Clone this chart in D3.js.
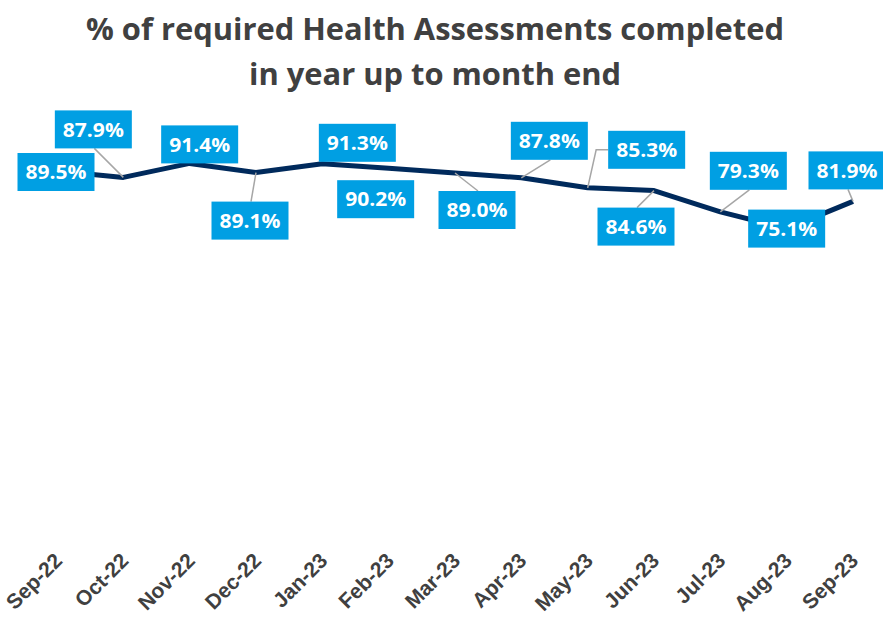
<!DOCTYPE html>
<html>
<head>
<meta charset="utf-8">
<script src="https://cdn.jsdelivr.net/npm/d3@7"></script>
<style>
  html, body { margin: 0; padding: 0; background: #fff; }
  svg { display: block; }
</style>
</head>
<body>
<svg id="chart" width="883" height="619"></svg>
<script>
// ---- data ----
const months = ["Sep-22","Oct-22","Nov-22","Dec-22","Jan-23","Feb-23","Mar-23","Apr-23","May-23","Jun-23","Jul-23","Aug-23","Sep-23"];
const pctCompleted = [89.5, 87.9, 91.4, 89.1, 91.3, 90.2, 89.0, 87.8, 85.3, 84.6, 79.3, 75.1, 81.9];
const titleLines = ["% of required Health Assessments completed", "in year up to month end"];

// ---- label layout (offset of box centre from point, leader style) ----
const labelDx = [-1, -30, 10, -6, 35, -13, 22, 28, 59, -18, 28, 0, -6];
const labelDy = [1, -48, -19, 48, -21, 31, 37, -37, -38, 36, -41, 0, -31];
const leaderType = ["none","v","none","v","none","none","v","v","elbow","v","v","none","v"];

const svg = d3.select("#chart");

const x = d3.scalePoint().domain(months).range([57, 853]);
const y = d3.scaleLinear().domain([0, 100]).range([529, 129]);

// title
svg.append("g").selectAll("text").data(titleLines).join("text")
  .attr("x", 435)
  .attr("y", (d, i) => 40 + i * 45)
  .attr("text-anchor", "middle")
  .attr("font-family", "'Open Sans', 'Noto Sans', sans-serif")
  .attr("font-weight", "bold")
  .attr("font-size", 31)
  .attr("fill", "#404040")
  .attr("textLength", (d, i) => i === 0 ? 698 : 372)
  .attr("lengthAdjust", "spacingAndGlyphs")
  .text(d => d);

// x axis
const axis = svg.append("g")
  .attr("transform", "translate(0,536)")
  .call(d3.axisBottom(x).tickSize(0).tickPadding(0));
axis.select(".domain").remove();
axis.selectAll("text")
  .attr("font-family", "'Liberation Sans', Arial, sans-serif")
  .attr("font-weight", "bold")
  .attr("font-size", 21)
  .attr("fill", "#404040")
  .attr("text-anchor", "end")
  .attr("dy", "0")
  .attr("dx", "0")
  .attr("transform", "translate(6,26) rotate(-45)");

// line
const pts = months.map((m, i) => ({ m, v: pctCompleted[i], px: x(m), py: y(pctCompleted[i]), i }));
svg.append("path")
  .datum(pts)
  .attr("fill", "none")
  .attr("stroke", "#002a5c")
  .attr("stroke-width", 5)
  .attr("stroke-linejoin", "round")
  .attr("d", d3.line().x(d => d.px).y(d => d.py));

// labels
const bw = 77, bh = 38;
const leaders = svg.append("g");
const labels = svg.append("g");
pts.forEach(d => {
  const cx = d.px + labelDx[d.i], cy = d.py + labelDy[d.i];
  const t = leaderType[d.i];
  if (t === "v") {
    const ey = d.py < cy ? cy - bh / 2 : cy + bh / 2;
    leaders.append("line")
      .attr("x1", d.px).attr("y1", d.py).attr("x2", cx + 1).attr("y2", ey)
      .attr("stroke", "#a6a6a6").attr("stroke-width", 1.5);
  } else if (t === "elbow") {
    const ex = cx - bw / 2;
    leaders.append("polyline")
      .attr("points", [[d.px, d.py], [ex - 12, cy], [ex, cy]].map(p => p.join(",")).join(" "))
      .attr("fill", "none")
      .attr("stroke", "#a6a6a6").attr("stroke-width", 1.5);
  }
  const g = labels.append("g").attr("transform", `translate(${cx},${cy})`);
  g.append("rect")
    .attr("x", -bw / 2).attr("y", -bh / 2).attr("width", bw).attr("height", bh)
    .attr("fill", "#009fe3");
  g.append("text")
    .attr("text-anchor", "middle")
    .attr("dy", "0.36em")
    .attr("font-family", "'Open Sans', 'Noto Sans', sans-serif")
    .attr("font-weight", "bold")
    .attr("font-size", 20)
    .attr("textLength", 61)
    .attr("lengthAdjust", "spacingAndGlyphs")
    .attr("fill", "#ffffff")
    .text(d3.format(".1f")(d.v) + "%");
});
</script>
</body>
</html>
